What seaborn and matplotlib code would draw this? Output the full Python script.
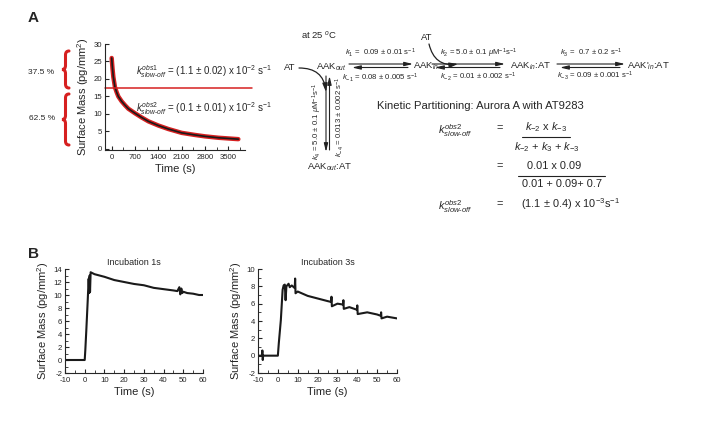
import numpy as np
import matplotlib
matplotlib.use("Agg")
import matplotlib.pyplot as plt
from matplotlib.path import Path
from matplotlib.patches import PathPatch
from matplotlib.ticker import MultipleLocator
import seaborn as sns

# --- data ---
# panel A: dissociation trace
decay_time = [0, 25, 50, 100, 150, 200, 300, 400, 500, 700, 900, 1100, 1400,
              1700, 2100, 2500, 2800, 3200, 3500, 3800]
decay_mass = [26, 23, 20.6, 17.6, 16.2, 15.0, 13.6, 12.5, 11.5, 10.2, 9.0, 7.9,
              6.7, 5.7, 4.6, 4.0, 3.6, 3.2, 3.0, 2.8]
split_level = 17.5
fractions = ["37.5 %", "62.5 %"]

# panel B: incubation 1 s
inc1_time = [-10, -5, 0, 0.3, 0.8, 1.5, 2.0, 2.3, 2.5, 2.7, 3.0, 5, 10, 15, 20,
             25, 30, 35, 40, 45, 47, 48, 48.5, 49, 49.5, 50, 52, 55, 58, 60]
inc1_mass = [0, 0, 0, 1.5, 4.5, 9, 12.5, 10.3, 13, 10.5, 13.5, 13.2, 12.8, 12.3,
             12.0, 11.7, 11.5, 11.1, 10.9, 10.7, 10.6, 11.2, 10.1, 11.0, 10.3,
             10.5, 10.3, 10.2, 10.0, 10.0]

# panel B: incubation 3 s
inc3_time = [-10, -8, -7.8, -7.6, -7.4, -5, 0, 0.5, 1.5, 2.4, 2.9, 3.5, 3.9, 4.3,
             5.4, 6, 7, 8.5, 8.7, 8.9, 10, 15, 20, 25, 26.8, 27, 27.2, 30, 32.8,
             33, 33.2, 36, 39.8, 40, 40.2, 45, 50, 51.8, 52, 52.2, 55, 60]
inc3_mass = [0, 0, 0.6, -0.5, 0, 0, 0, 1.5, 4.1, 7.6, 8.1, 8.2, 6.4, 8.0, 8.3,
             7.9, 8.1, 7.8, 8.9, 7.2, 7.4, 6.9, 6.6, 6.3, 6.2, 6.8, 5.7, 6.0,
             5.9, 6.4, 5.4, 5.6, 5.3, 5.8, 4.8, 5.0, 4.75, 4.6, 5.0, 4.3, 4.5, 4.3]

sns.set_style("ticks")
plt.rcParams["font.family"] = ["Liberation Sans", "DejaVu Sans"]
plt.rcParams["mathtext.fontset"] = "custom"
plt.rcParams["mathtext.rm"] = "Liberation Sans"
plt.rcParams["mathtext.it"] = "Liberation Sans:italic"
plt.rcParams["mathtext.bf"] = "Liberation Sans:bold"
plt.rcParams["axes.linewidth"] = 0.8
plt.rcParams["axes.unicode_minus"] = False

W, H = 711, 423
fig = plt.figure(figsize=(W / 100, H / 100), dpi=100)


def px_axes(x0, y0, x1, y1):
    return fig.add_axes([x0 / W, 1 - y1 / H, (x1 - x0) / W, (y1 - y0) / H])


def style_axes(ax, tick_size=5.6):
    sns.despine(ax=ax)
    ax.patch.set_alpha(0)
    ax.tick_params(direction="in", length=3, width=0.8, labelsize=tick_size, pad=2)
    ax.tick_params(axis="x", pad=3)
    ax.tick_params(which="minor", direction="in", length=2, width=0.6)
    ax.set_xlabel("Time (s)", fontsize=8, labelpad=2)
    ax.set_ylabel("Surface Mass (pg/mm$^2$)", fontsize=8, labelpad=2)


# ---------------- panel A plot ----------------
axA = px_axes(105, 44, 245, 150)
sns.lineplot(x=decay_time, y=decay_mass, ax=axA, color="#d62020", lw=3.2,
             estimator=None, sort=False)
sns.lineplot(x=decay_time, y=decay_mass, ax=axA, color="#1a1a1a", lw=1.2,
             estimator=None, sort=False)
axA.axhline(split_level, xmin=0, xmax=1.05, color="#d62020", lw=1.1, clip_on=False)
axA.set_xlim(-200, 4000)
axA.set_ylim(-0.3, 30)
axA.xaxis.set_major_locator(MultipleLocator(700))
axA.xaxis.set_minor_locator(MultipleLocator(350))
axA.yaxis.set_major_locator(MultipleLocator(5))
style_axes(axA)

# ---------------- panel B plots ----------------
axB1 = px_axes(65, 269, 203, 373)
sns.lineplot(x=inc1_time, y=inc1_mass, ax=axB1, color="#1a1a1a", lw=1.5,
             estimator=None, sort=False)
axB1.set_xlim(-10, 60)
axB1.set_ylim(-2, 14)
axB1.xaxis.set_major_locator(MultipleLocator(10))
axB1.xaxis.set_minor_locator(MultipleLocator(5))
axB1.yaxis.set_major_locator(MultipleLocator(2))
axB1.yaxis.set_minor_locator(MultipleLocator(1))
style_axes(axB1)
axB1.set_title("Incubation 1s", fontsize=6.5, pad=3)

axB2 = px_axes(258, 269, 397, 373)
sns.lineplot(x=inc3_time, y=inc3_mass, ax=axB2, color="#1a1a1a", lw=1.5,
             estimator=None, sort=False)
axB2.set_xlim(-10, 60)
axB2.set_ylim(-2, 10)
axB2.xaxis.set_major_locator(MultipleLocator(10))
axB2.xaxis.set_minor_locator(MultipleLocator(5))
axB2.yaxis.set_major_locator(MultipleLocator(2))
axB2.yaxis.set_minor_locator(MultipleLocator(1))
style_axes(axB2)
axB2.set_title("Incubation 3s", fontsize=6.5, pad=3)

# overlay in pixel coordinates for the schematic and labels (on top)
ov = fig.add_axes([0, 0, 1, 1], zorder=10)
ov.set_xlim(0, W)
ov.set_ylim(H, 0)
ov.axis("off")
ov.patch.set_alpha(0)

ov.text(136, 72, r"$k^{\mathit{obs1}}_{\mathit{slow\text{-}off}}$ = (1.1 $\pm$ 0.02) x 10$^{-2}$ s$^{-1}$",
        fontsize=7, va="center")
ov.text(136, 109, r"$k^{\mathit{obs2}}_{\mathit{slow\text{-}off}}$ = (0.1 $\pm$ 0.01) x 10$^{-2}$ s$^{-1}$",
        fontsize=7, va="center")

ov.text(41, 72, fractions[0], fontsize=6, ha="center", va="center")
ov.text(42, 118, fractions[1], fontsize=6, ha="center", va="center")


def brace(xr, y0, y1, w=7, r=4):
    ym = (y0 + y1) / 2
    xm = xr - w / 2
    verts = [(xr, y0), (xm, y0), (xm, y0 + r), (xm, ym - r), (xm, ym), (xr - w, ym),
             (xm, ym), (xm, ym + r), (xm, y1 - r), (xm, y1), (xr, y1)]
    codes = [Path.MOVETO, Path.CURVE3, Path.CURVE3, Path.LINETO, Path.CURVE3,
             Path.CURVE3, Path.CURVE3, Path.CURVE3, Path.LINETO, Path.CURVE3, Path.CURVE3]
    ov.add_patch(PathPatch(Path(verts, codes), fill=False, ec="#d62020", lw=2.2,
                           capstyle="round"))


brace(69, 51, 88)
brace(69, 94, 145)

ov.text(28, 18, "A", fontsize=11, fontweight="bold", va="center")
ov.text(28, 254, "B", fontsize=11, fontweight="bold", va="center")

# ---------------- schematic ----------------
small = 5.6
mid = 6.8
ov.text(301, 35, r"at 25 $^{o}$C", fontsize=mid, va="center")
ov.text(290, 68, "AT", fontsize=mid, ha="center", va="center")
ov.text(331, 67, r"AAK$_{out}$", fontsize=mid, ha="center", va="center")
ov.text(413, 66, r"AAK$_{in}$", fontsize=mid, va="center")
ov.text(427, 37, "AT", fontsize=mid, ha="center", va="center")
ov.text(510, 66, r"AAK$_{in}$:AT", fontsize=mid, va="center")
ov.text(627, 66, r"AAK'$_{in}$:AT", fontsize=mid, va="center")
ov.text(330, 167, r"AAK$_{out}$:AT", fontsize=mid, ha="center", va="center")

ov.text(345, 53, r"$k_1$ =  0.09 $\pm$ 0.01 s$^{-1}$", fontsize=small, va="center")
ov.text(342, 78, r"$k_{-1}$ = 0.08 $\pm$ 0.005 s$^{-1}$", fontsize=small, va="center")
ov.text(440, 53, r"$k_2$ = 5.0 $\pm$ 0.1 $\mu$M$^{-1}$s$^{-1}$", fontsize=small, va="center")
ov.text(440, 77, r"$k_{-2}$ = 0.01 $\pm$ 0.002 s$^{-1}$", fontsize=small, va="center")
ov.text(560, 53, r"$k_3$ =  0.7 $\pm$ 0.2 s$^{-1}$", fontsize=small, va="center")
ov.text(557, 76, r"$k_{-3}$ = 0.09 $\pm$ 0.001 s$^{-1}$", fontsize=small, va="center")
ov.text(317, 121, r"$k_4$ = 5.0 $\pm$ 0.1 $\mu$M$^{-1}$s$^{-1}$", fontsize=small,
        rotation=90, ha="center", va="center")
ov.text(340, 117, r"$k_{-4}$ = 0.013 $\pm$ 0.002 s$^{-1}$", fontsize=small,
        rotation=90, ha="center", va="center")

arw = dict(arrowstyle="-|>,head_length=0.5,head_width=0.12", color="#222222", lw=0.8,
           shrinkA=0, shrinkB=0)
for xa, xb in [(349, 413), (432, 505), (557, 625)]:
    ov.annotate("", xy=(xb, 64), xytext=(xa, 64), arrowprops=arw)
    ov.annotate("", xy=(xa + 3, 67.5), xytext=(xb - 5, 67.5), arrowprops=arw)
ov.annotate("", xy=(326, 152), xytext=(326, 76), arrowprops=arw)
ov.annotate("", xy=(329.5, 76), xytext=(329.5, 150), arrowprops=arw)

curve = dict(arrowstyle="-|>,head_length=0.5,head_width=0.15", color="#222222", lw=0.9,
             shrinkA=0, shrinkB=0, connectionstyle="arc3,rad=-0.45")
ov.annotate("", xy=(326, 92), xytext=(299, 68), arrowprops=curve)
ov.annotate("", xy=(458, 64), xytext=(429, 44), arrowprops=dict(curve, connectionstyle="arc3,rad=0.45"))

ov.text(377, 106, "Kinetic Partitioning: Aurora A with AT9283", fontsize=8.1, va="center")

eq = 7.9
kobs2 = r"$k^{\mathit{obs2}}_{\mathit{slow\text{-}off}}$"
ov.text(455, 131, kobs2, fontsize=eq, ha="center", va="center")
ov.text(500, 128, "=", fontsize=eq, ha="center", va="center")
ov.text(546, 127, r"$k_{-2}$ x $k_{-3}$", fontsize=eq, ha="center", va="center")
ov.plot([522, 570], [137, 137], color="#222222", lw=0.8)
ov.text(547, 147, r"$k_{-2}$ + $k_3$ + $k_{-3}$", fontsize=eq, ha="center", va="center")
ov.text(500, 166, "=", fontsize=eq, ha="center", va="center")
ov.text(554, 166, "0.01 x 0.09", fontsize=eq, ha="center", va="center")
ov.plot([518, 605], [176, 176], color="#222222", lw=0.8)
ov.text(562, 184, "0.01 + 0.09+ 0.7", fontsize=eq, ha="center", va="center")
ov.text(455, 207, kobs2, fontsize=eq, ha="center", va="center")
ov.text(500, 204, "=", fontsize=eq, ha="center", va="center")
ov.text(521, 204, r"(1.1 $\pm$ 0.4) x 10$^{-3}$s$^{-1}$", fontsize=eq, va="center")

fig.savefig("out.png", dpi=100)
